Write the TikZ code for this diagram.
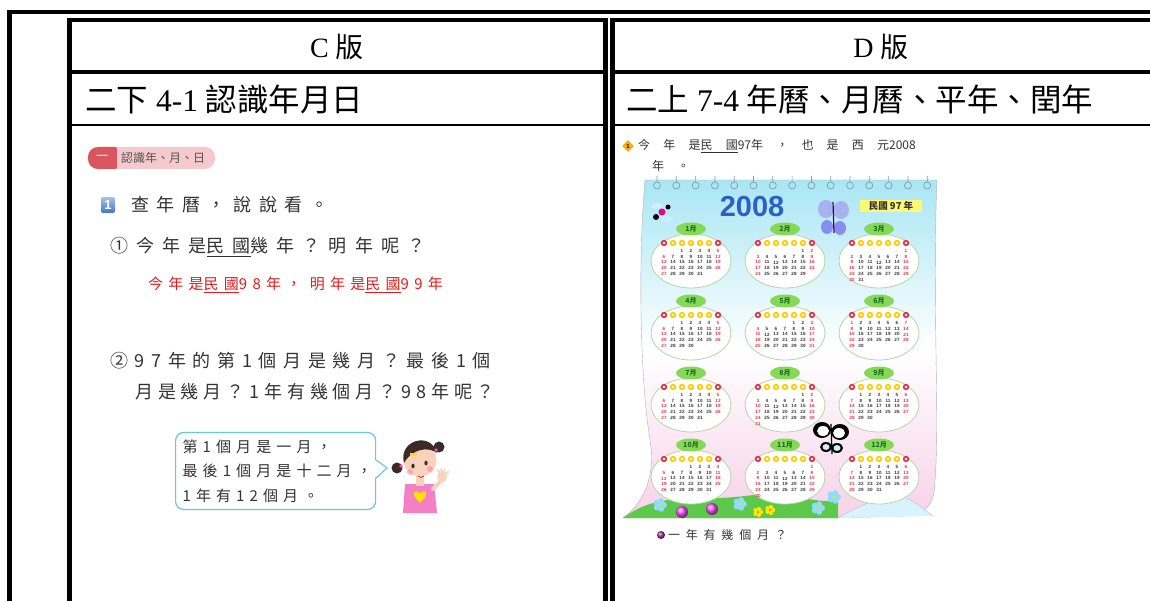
\documentclass[tikz,border=0pt]{standalone}
\usepackage{fontspec}
\setmainfont{Liberation Serif}
\setsansfont{Liberation Sans}
\newfontfamily\cjk{Noto Sans CJK TC}
\newcommand\plainnum[1]{{\addfontfeature{LetterSpace=0}#1}}
\usetikzlibrary{shapes.geometric}

\definecolor{ink}{HTML}{333333}
\definecolor{tabred}{HTML}{D95560}
\definecolor{tabpink}{HTML}{F6C9CE}
\definecolor{boxblue}{HTML}{3F78C4}
\definecolor{ansred}{HTML}{E31B1B}
\definecolor{bubblue}{HTML}{6CC3E2}
\definecolor{skin}{HTML}{F9D2BE}
\definecolor{hair}{HTML}{3B2A2A}
\definecolor{shirt}{HTML}{F57FC4}
\definecolor{sky}{HTML}{A9E6F4}
\definecolor{blush}{HTML}{F7D2EA}
\definecolor{calblue}{HTML}{2B5FC9}
\definecolor{leaf}{HTML}{86D957}
\definecolor{leafdark}{HTML}{1F6E1F}
\definecolor{calred}{HTML}{E0304A}
\definecolor{grass}{HTML}{5CC94A}
\definecolor{lavender}{HTML}{A8B2F0}

\tikzset{
  rule/.style={line width=4.5pt},
  thinrule/.style={line width=2.4pt},
  edition/.style={font=\fontsize{28}{30}\selectfont},
  unit/.style={anchor=west, inner sep=0pt, font=\fontsize{31.5}{34}\selectfont},
  kai/.style={anchor=west, inner sep=0pt, text=ink, font=\cjk\fontsize{18}{22}\selectfont\addfontfeature{LetterSpace=#1}},
  kai/.default=37,
  ans/.style={anchor=west, inner sep=0pt, text=ansred, font=\cjk\fontsize{15}{18}\selectfont\addfontfeature{LetterSpace=35}},
  bubble/.style={draw=bubblue, line width=1.2pt, fill=white, rounded corners=8pt, anchor=west,
    text width=186pt, align=left, inner xsep=7pt, minimum height=77pt, text=ink,
    font=\cjk\fontsize{15}{24.5}\selectfont\addfontfeature{LetterSpace=34}},
  numbox/.style={rounded corners=2pt, top color=boxblue!45, bottom color=boxblue, minimum width=14pt,
    minimum height=16pt, inner sep=0pt, text=white, font=\sffamily\bfseries\fontsize{13}{14}\selectfont},
  small/.style={anchor=west, inner sep=0pt, text=ink, font=\cjk\fontsize{12}{14}\selectfont\addfontfeature{LetterSpace=#1}},
  small/.default=48,
  monthring/.style={draw=leaf!70!gray!60, fill=white, line width=0.8pt},
  leafbox/.style={ellipse, fill=leaf, minimum width=30pt, minimum height=13pt, inner sep=0pt,
    text=leafdark, font=\cjk\fontsize{7}{8}\selectfont\bfseries},
  daynum/.style={inner sep=0pt, font=\sffamily\bfseries\fontsize{4.6}{5}\selectfont},
  ring/.style={draw=gray!70!cyan, line width=0.7pt},
}

\begin{document}
\begin{tikzpicture}[x=1pt,y=-1pt]
\useasboundingbox (0,0) rectangle (1150,601);

% table rules
\draw[rule] (7,12) -- (1150,12);
\draw[rule] (9.5,10) -- (9.5,601);
\draw[rule] (67,20) -- (607.5,20);
\draw[rule] (610,20) -- (1150,20);
\draw[rule] (69.5,18) -- (69.5,601);
\draw[rule] (605.5,18) -- (605.5,601);
\draw[rule] (612.5,18) -- (612.5,601);
\draw[rule] (67,72) -- (607.5,72);
\draw[rule] (610,72) -- (1150,72);
\draw[thinrule] (67,125) -- (607.5,125);
\draw[thinrule] (610,125) -- (1150,125);

\node[edition] (edC) at (337,47) {C {\cjk 版}};
\node[edition] (edD) at (881,47) {D {\cjk 版}};
\node[unit] (unC) at (85,99) {{\cjk 二下} 4-1 {\cjk 認識年月日}};
\node[unit] (unD) at (626,99) {{\cjk 二上} 7-4 {\cjk 年曆、月曆、平年、閏年}};

% C: textbook page
\fill[tabpink, rounded corners=10pt] (88,147) rectangle (215,169);
\fill[tabred, rounded corners=10pt] (88,147) rectangle (124,169);
\fill[tabpink] (117,147) rectangle (124,169);
\node[text=white, font=\cjk\fontsize{12}{14}\selectfont] (tabno) at (102,158) {一};
\node[anchor=west, inner sep=0pt, text=ink!85, font=\cjk\fontsize{12}{14}\selectfont] (tabtxt) at (121,158) {認識年、月、日};

\node[numbox] (q1) at (108,205) {1};
\node[kai=42] (q1txt) at (131,205) {查年曆，說說看。};
\node[kai=45] (q11) at (110,247) {①今年是\underline{民國}幾年？明年呢？};
\node[ans] (a11) at (148,285) {今年是\underline{民國}98年，\ 明年是\underline{民國}99年};
\node[kai] (q12a) at (110,361) {②97年的第1個月是幾月？最後1個};
\node[kai=27] (q12b) at (135,392) {月是幾月？1年有幾個月？98年呢？};

\node[bubble] (bub) at (175,471) {第1個月是一月，\\最後1個月是十二月，\\1年有12個月。};
\coordinate (tip) at (387,468);
\fill[white] ([xshift=-1.5pt,yshift=11pt]bub.east) -- (tip) -- ([xshift=-1.5pt,yshift=-7pt]bub.east) -- cycle;
\draw[bubblue, line width=1.2pt] ([yshift=11pt]bub.east) -- (tip) -- ([yshift=-7pt]bub.east);

% girl
\fill[hair] (397,468) circle (5.5);
\fill[hair] (439,447) circle (5.5);
\fill[shirt] (405,484) -- (434,484) -- (437,513) -- (403,513) -- cycle;
\fill[yellow!85!orange] (420,503) -- (414,496) .. controls (412,491) and (418,489) .. (420,494)
  .. controls (422,489) and (428,491) .. (426,496) -- cycle;
\fill[skin] (416,474) rectangle (424,486);
\fill[skin] (420,460) circle (16.5);
\fill[hair] (404,463) .. controls (398,440) and (431,431) .. (437,453)
  .. controls (428,446) and (412,449) .. (404,463) -- cycle;
\fill[yellow!80!orange] (410,453) rectangle (417,456);
\fill[hair] (413,466) ellipse (1.6 and 2.4);
\fill[hair] (426,463) ellipse (1.6 and 2.4);
\fill[red!45, opacity=.6] (410,472) circle (3);
\fill[red!45, opacity=.6] (430,469) circle (3);
\draw[red!60!black, line width=0.6pt] (418,476) .. controls (420,478) and (422,478) .. (424,476);
\fill[magenta!70] (401,466) circle (1.8);
\fill[magenta!70] (436,450) circle (1.8);
\draw[skin, line width=4pt, line cap=round] (433,489) -- (441,481);
\fill[skin] (442,477) circle (5);
\foreach \a in {-120,-95,-70,-40}
  \draw[skin, line width=2pt, line cap=round] (442,477) -- ++(\a:8);

% D: calendar page
\node[diamond, fill=orange!60!yellow, draw=orange, minimum size=11pt, inner sep=0pt,
  font=\sffamily\bfseries\fontsize{6}{6}\selectfont] (d1) at (628,146) {1};
\node[small=110] (d1a) at (638,146) {今年是\underline{民國}\plainnum{97}年，也是西元\plainnum{2008}};
\node[small=110] (d1b) at (652,166) {年。};

\path[top color=sky, bottom color=blush, middle color=white, draw=gray!60]
  (645,180) -- (937,180) .. controls (932,300) and (940,420) .. (935,480)
  .. controls (935,505) and (925,515) .. (905,516) -- (838,518) -- (623,518)
  .. controls (648,500) and (655,470) .. (650,440)
  .. controls (640,380) and (638,260) .. (645,180) -- cycle;
\fill[grass] (623,518) .. controls (660,490) and (700,502) .. (745,496)
  .. controls (790,490) and (815,505) .. (838,500) -- (838,518) -- cycle;
\fill[cyan!15] (838,518) .. controls (860,505) and (885,495) .. (898,496)
  .. controls (912,498) and (922,508) .. (933,516) -- cycle;
\draw[gray!50] (838,518) .. controls (860,505) and (885,495) .. (898,496)
  .. controls (912,498) and (922,508) .. (933,516);
\foreach \i in {0,...,14}
  \draw[ring] ({657+19.3*\i},176) -- ++(0,6) ++(0,3.5) circle (3.5);

\node[text=calblue, inner sep=0pt, font=\sffamily\bfseries\fontsize{29}{30}\selectfont] (yr) at (752,207) {2008};
\node[fill=yellow!55, inner sep=1.5pt, minimum width=62pt, text=black!80,
  font=\cjk\fontsize{9.5}{10}\selectfont\bfseries] (roc) at (891,206) {民國 97 年};
% butterflies and bug
\fill[lavender] (826,209) ellipse (8 and 9);
\fill[lavender] (841,210) ellipse (8 and 9);
\fill[lavender!80!blue] (827,227) ellipse (6 and 7);
\fill[lavender!80!blue] (840,228) ellipse (6 and 7);
\draw[violet!60!black, line width=1.2pt] (833,202) -- (834,233);
\fill[cyan!20] (657,206) ellipse (6 and 3);
\fill[cyan!20] (667,219) ellipse (6 and 3);
\fill[magenta] (662,212) circle (3.5);
\fill[black] (656,217) circle (3);
\fill[black] (668,207) circle (2.5);
\fill[black] (822,430) ellipse (9 and 8);
\fill[black] (840,432) ellipse (9 and 8);
\fill[white] (823,431) ellipse (6 and 5);
\fill[white] (839,433) ellipse (6 and 5);
\fill[black] (826,447) ellipse (6 and 5);
\fill[black] (837,448) ellipse (6 and 5);
\fill[cyan!20] (826,447) ellipse (3.5 and 3);
\fill[cyan!20] (837,448) ellipse (3.5 and 3);
\draw[black, line width=1.2pt] (831,424) -- (832,454);

% months of 2008: month / first weekday (Sun=0) / days
\foreach \m/\s/\n [count=\k from 0] in {1/2/31,2/5/29,3/6/31,4/2/30,5/4/31,6/0/30,
    7/2/31,8/5/31,9/1/30,10/3/31,11/6/30,12/1/31}{
  \pgfmathsetmacro\cx{691+94*mod(\k,3)}
  \pgfmathsetmacro\cy{261+72*floor(\k/3)}
  \draw[monthring] (\cx,\cy) ellipse (40 and 27);
  \node[leafbox] (leaf\m) at (\cx,{\cy-32}) {\m 月};
  \foreach \j in {0,...,6}{
    \ifnum\j=0 \def\fc{calred}\else\ifnum\j=6 \def\fc{calred}\else\def\fc{orange!40!yellow}\fi\fi
    \fill[\fc] ({\cx-27+9*\j},{\cy-18}) circle (3.2);
    \fill[white] ({\cx-27+9*\j},{\cy-18}) circle (1.3);
  }
  \foreach \d in {1,...,\n}{
    \pgfmathtruncatemacro\p{\d+\s-1}
    \pgfmathtruncatemacro\c{mod(\p,7)}
    \pgfmathtruncatemacro\r{floor(\p/7)}
    \ifnum\c=0 \def\dc{calred}\else\ifnum\c=6 \def\dc{calred}\else\def\dc{ink}\fi\fi
    \node[daynum, text=\dc] (day\m-\d) at ({\cx-27+9*\c},{\cy-10+5.7*\r}) {\d};
  }
}

% flowers on the grass
\foreach \x/\y in {682/512, 712/509}
  \shade[ball color=magenta!70] (\x,\y) circle (6);
\foreach \x/\y in {740/504, 818/508, 834/497, 660/505}{
  \foreach \a in {0,72,...,288}
    \fill[blue!30!cyan!45] (\x,\y) ++(\a:4) circle (3);
  \fill[yellow!80!orange] (\x,\y) circle (1.6);
}
\foreach \x/\y in {758/512, 770/510}{
  \foreach \a in {0,72,...,288}
    \fill[yellow!90!orange] (\x,\y) ++(\a:3) circle (2.2);
  \fill[orange] (\x,\y) circle (1.2);
}

\shade[ball color=violet!80] (661,535) circle (4);
\node[small] (d2) at (668,535) {一年有幾個月？};
\end{tikzpicture}
\end{document}
